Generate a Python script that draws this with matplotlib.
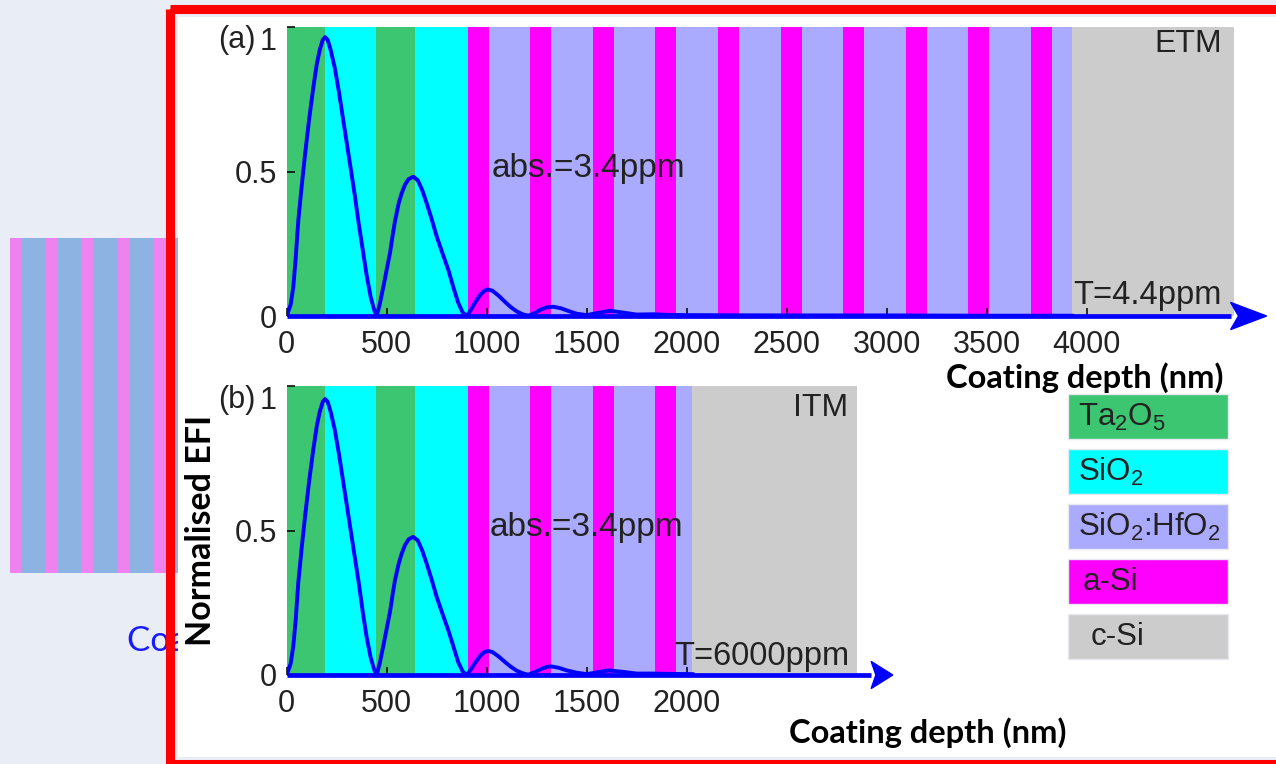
import numpy as np
import matplotlib.pyplot as plt
from matplotlib.patches import Rectangle, Polygon

plt.rcParams['font.family'] = ['Liberation Sans', 'DejaVu Sans']
plt.rcParams['mathtext.fontset'] = 'custom'
plt.rcParams['mathtext.rm'] = 'Liberation Sans'
plt.rcParams['mathtext.it'] = 'Liberation Sans:italic'
plt.rcParams['mathtext.bf'] = 'Liberation Sans:bold'

#------------------------------------------------------------------#
# coating stacks (layer material, thickness in nm)
etm_layers = ['Ta2O5', 'SiO2', 'Ta2O5', 'SiO2',
              'aSi', 'SiHf', 'aSi', 'SiHf', 'aSi', 'SiHf', 'aSi', 'SiHf', 'aSi', 'SiHf',
              'aSi', 'SiHf', 'aSi', 'SiHf', 'aSi', 'SiHf', 'aSi', 'SiHf', 'aSi', 'SiHf']
etm_thick = [190, 255, 195, 265,
             105, 208, 105, 208, 105, 208, 105, 208, 105, 208,
             105, 208, 105, 208, 105, 208, 105, 208, 105, 100]
itm_layers = ['Ta2O5', 'SiO2', 'Ta2O5', 'SiO2',
              'aSi', 'SiHf', 'aSi', 'SiHf', 'aSi', 'SiHf', 'aSi', 'SiHf']
itm_thick = [190, 255, 195, 265,
             105, 208, 105, 208, 105, 208, 105, 80]

# normalised electric field intensity vs depth
etm_depth = [0, 20, 33, 45, 58, 75, 92, 112, 133, 150, 165, 180, 192, 205, 220, 240, 260, 280,
             300, 320, 340, 360, 380, 400, 420, 440, 450,
             465, 483, 500, 517, 530, 542, 560, 575, 592, 610, 633, 655, 678, 700, 725, 750,
             780, 808, 833, 858, 880, 900,
             920, 945, 970, 990, 1008, 1030, 1060, 1090, 1120, 1150, 1180, 1208, 1240, 1270,
             1300, 1333, 1370, 1410, 1450, 1500, 1550, 1617, 1680, 1750, 1830, 1900, 2000,
             2500, 3000, 3500, 3927]
etm_efi = [0, 0.04, 0.10, 0.20, 0.33, 0.45, 0.56, 0.68, 0.79, 0.87, 0.92, 0.955, 0.965, 0.955,
           0.92, 0.86, 0.78, 0.69, 0.60, 0.51, 0.42, 0.32, 0.23, 0.14, 0.065, 0.015, 0,
           0.04, 0.10, 0.16, 0.22, 0.28, 0.33, 0.39, 0.425, 0.455, 0.474, 0.482, 0.47, 0.435,
           0.39, 0.335, 0.275, 0.215, 0.16, 0.10, 0.045, 0.012, 0,
           0.02, 0.05, 0.075, 0.088, 0.092, 0.087, 0.07, 0.05, 0.031, 0.016, 0.006, 0.001,
           0.01, 0.022, 0.03, 0.032, 0.027, 0.017, 0.008, 0.003, 0.01, 0.018, 0.012, 0.005,
           0.006, 0.004, 0.003, 0.002, 0.002, 0.001, 0.001]
itm_depth = [0, 20, 33, 45, 58, 75, 92, 112, 133, 150, 165, 180, 192, 205, 220, 240, 260, 280,
             300, 320, 340, 360, 380, 400, 420, 440, 450,
             465, 483, 500, 517, 530, 542, 560, 575, 592, 610, 632, 655, 678, 700, 725, 750,
             780, 808, 833, 858, 880, 900,
             920, 945, 970, 990, 1010, 1030, 1060, 1090, 1120, 1150, 1180, 1208, 1240, 1270,
             1300, 1320, 1360, 1400, 1450, 1500, 1550, 1610, 1680, 1750, 1830, 1900, 2029]
itm_efi = [0, 0.04, 0.10, 0.19, 0.32, 0.44, 0.55, 0.67, 0.78, 0.86, 0.91, 0.945, 0.955, 0.945,
           0.91, 0.85, 0.77, 0.68, 0.59, 0.50, 0.41, 0.32, 0.22, 0.13, 0.06, 0.013, 0,
           0.04, 0.10, 0.16, 0.22, 0.28, 0.33, 0.385, 0.42, 0.45, 0.47, 0.478, 0.466, 0.43,
           0.385, 0.33, 0.27, 0.21, 0.155, 0.10, 0.044, 0.012, 0,
           0.018, 0.045, 0.068, 0.08, 0.083, 0.079, 0.064, 0.046, 0.029, 0.015, 0.006, 0.001,
           0.01, 0.02, 0.028, 0.03, 0.025, 0.016, 0.008, 0.003, 0.009, 0.016, 0.011, 0.005,
           0.005, 0.004, 0.003]

colors = {'Ta2O5': '#3cc672', 'SiO2': '#00ffff', 'SiHf': '#aaaaff',
          'aSi': '#ff00ff', 'cSi': '#cccccc'}
legend_keys = ['Ta2O5', 'SiO2', 'SiHf', 'aSi', 'cSi']
legend_labels = [r'Ta$_2$O$_5$', r'SiO$_2$', r'SiO$_2$:HfO$_2$', 'a-Si', 'c-Si']

W, H = 1276, 764
def fx(x):
    return x / W
def fy(y):
    return 1 - y / H

fig = plt.figure(figsize=(W / 100, H / 100), dpi=100, facecolor='#e9edf5')

#------------------------------------------------------------------#
# slide background: striped block, hidden caption, white panel with red frame
bg = fig.add_axes([0, 0, 1, 1], zorder=0)
bg.set_xlim(0, W)
bg.set_ylim(H, 0)
bg.axis('off')
bg.set_facecolor('none')
stripe_x = [10, 22, 46, 58, 81, 93, 117, 129, 153, 166]
for i in range(len(stripe_x) - 1):
    c = '#ee82ee' if i % 2 == 0 else '#8db3e2'
    bg.add_patch(Rectangle((stripe_x[i], 238), stripe_x[i + 1] - stripe_x[i], 335, color=c, lw=0))
bg.add_patch(Rectangle((166, 238), 12, 335, color='#8db3e2', lw=0))
bg.text(127, 640, 'Coating depth (nm)', color='#1a1aff', fontsize=25, family='Lato',
        va='center', ha='left')
bg.add_patch(Rectangle((178, 17), W, 740, facecolor='white', lw=0, zorder=5))
bg.add_patch(Rectangle((169.5, 9), W, 755, facecolor='none', edgecolor='#ff0000',
                       lw=6.5, zorder=6))

# legend boxes
for i, (k, lab) in enumerate(zip(legend_keys, legend_labels)):
    y0 = 394 + i * 55
    bg.add_patch(Rectangle((1068, y0), 160, 45, facecolor=colors[k], edgecolor='#e8e8f0',
                           lw=1, zorder=7))
    xoff = {'aSi': 15, 'cSi': 23}.get(k, 10)
    bg.text(1068 + xoff, y0 + 23, lab, fontsize=22.5, color='#222222', va='center',
            ha='left', zorder=8)

#------------------------------------------------------------------#
def draw_panel(rect, layers, thick, xmax, depth, efi, xticks, tip):
    ax = fig.add_axes(rect, zorder=3)
    ax.set_facecolor('none')
    edges = np.concatenate([[0], np.cumsum(thick)])
    for m, a, b in zip(layers, edges[:-1], edges[1:]):
        ax.axvspan(a, b, color=colors[m], lw=0)
    ax.axvspan(edges[-1], xmax, color=colors['cSi'], lw=0)
    ax.plot(depth, efi, color='#0000ff', lw=2.8, zorder=4, solid_joinstyle='round')

    # depth axis arrow
    head = 0.038 * xmax
    ax.plot([0, tip - head], [0, 0], color='#0000ff', lw=3.4, clip_on=False,
            solid_capstyle='butt', zorder=4)
    ax.add_patch(Polygon([(tip, 0), (tip - head, 0.047), (tip - 0.78 * head, 0),
                          (tip - head, -0.047)], closed=True, color='#0000ff',
                         clip_on=False, zorder=4))

    ax.set_xlim(0, xmax)
    ax.set_ylim(0, 1)
    for s in ax.spines.values():
        s.set_visible(False)
    ax.set_xticks(xticks)
    ax.set_xticklabels([str(t) for t in xticks])
    ax.set_yticks([0, 0.5, 1])
    ax.set_yticklabels(['0', '0.5', '1'])
    ax.tick_params(direction='in', length=6, width=1.1, color='black',
                   labelsize=22, labelcolor='#222222')
    ax.tick_params(axis='x', pad=10)
    ax.tick_params(axis='y', pad=7)
    ax.get_yticklabels()[-1].set_verticalalignment('top')
    return ax

ax1 = draw_panel([fx(286.7), fy(316), (1234 - 286.7) / W, 289 / H],
                 etm_layers, etm_thick, 4737, etm_depth, etm_efi,
                 [0, 500, 1000, 1500, 2000, 2500, 3000, 3500, 4000], 4900)
ax2 = draw_panel([fx(286.7), fy(675), (857 - 286.7) / W, 289 / H],
                 itm_layers, itm_thick, 2852, itm_depth, itm_efi,
                 [0, 500, 1000, 1500, 2000], 3031)

ax1.text(1026, 0.51, 'abs.=3.4ppm', fontsize=24, color='#222222', va='center')
ax2.text(1016, 0.51, 'abs.=3.4ppm', fontsize=24, color='#222222', va='center')
ax1.text(4676, 0.94, 'ETM', fontsize=23, color='#222222', va='center', ha='right')
ax2.text(2807, 0.925, 'ITM', fontsize=23, color='#222222', va='center', ha='right')
ax1.text(4676, 0.04, 'T=4.4ppm', fontsize=23.5, color='#222222', va='baseline', ha='right')
ax2.text(2816, 0.035, 'T=6000ppm', fontsize=23.5, color='#222222', va='baseline', ha='right')

fig.text(fx(237), fy(40), '(a)', fontsize=22, color='#222222', ha='center', va='center')
fig.text(fx(237), fy(400), '(b)', fontsize=22, color='#222222', ha='center', va='center')

fig.text(fx(1085), fy(378), 'Coating depth (nm)', fontsize=23.5, family='Lato',
         weight='bold', ha='center', va='center', color='black')
fig.text(fx(928), fy(733), 'Coating depth (nm)', fontsize=23.5, family='Lato',
         weight='bold', ha='center', va='center', color='black')
fig.text(fx(201), fy(530), 'Normalised EFI', fontsize=24.5, family='Lato',
         weight='bold', ha='center', va='center', rotation=90, color='black')

fig.savefig('out.png', dpi=100, facecolor=fig.get_facecolor())
